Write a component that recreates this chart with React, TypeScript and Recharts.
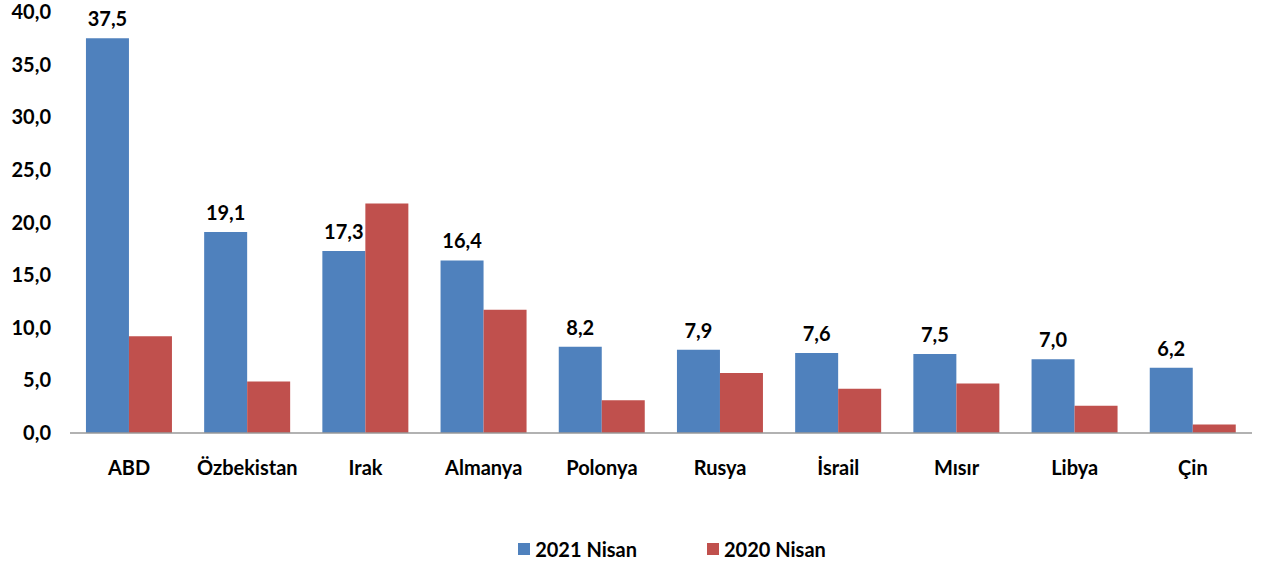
import React from "react";
import { BarChart, Bar, XAxis, YAxis, LabelList, Legend } from "recharts";

const categories = ["ABD", "Özbekistan", "Irak", "Almanya", "Polonya", "Rusya", "İsrail", "Mısır", "Libya", "Çin"];
const values2021 = [37.5, 19.1, 17.3, 16.4, 8.2, 7.9, 7.6, 7.5, 7.0, 6.2];
const values2020 = [9.2, 4.9, 21.8, 11.7, 3.1, 5.7, 4.2, 4.7, 2.6, 0.8];
const yTicks = [0, 5, 10, 15, 20, 25, 30, 35, 40];

const data = categories.map((c, i) => ({ name: c, y2021: values2021[i], y2020: values2020[i] }));

const fmt = (v: number) => v.toFixed(1).replace(".", ",");
const FONT = "Lato, 'Open Sans', sans-serif";
const BLUE = "#4F81BD";
const RED = "#C0504D";

const LegendContent = () => (
  <div style={{ display: "flex", justifyContent: "center", fontFamily: FONT, fontWeight: 700, fontSize: 20, color: "#000", paddingLeft: 92, lineHeight: "24px" }}>
    <div style={{ display: "flex", alignItems: "center", marginRight: 70 }}>
      <span style={{ width: 12, height: 12, background: BLUE, display: "inline-block", marginRight: 5 }} />
      2021 Nisan
    </div>
    <div style={{ display: "flex", alignItems: "center" }}>
      <span style={{ width: 12, height: 12, background: RED, display: "inline-block", marginRight: 5 }} />
      2020 Nisan
    </div>
  </div>
);

export default function App() {
  return (
    <div style={{ position: "absolute", left: 0, top: 0, background: "#fff" }}>
      <BarChart
        width={1264}
        height={566}
        data={data}
        margin={{ top: 12, right: 12, left: 0, bottom: 8 }}
        barCategoryGap="13.5%"
        barGap={0}
      >
        <XAxis
          dataKey="name"
          axisLine={{ stroke: "#999", strokeWidth: 1.5 }}
          tickLine={false}
          tickMargin={22}
          height={69}
          interval={0}
          tick={{ fontFamily: FONT, fontWeight: 700, fontSize: 20, fill: "#000" }}
        />
        <YAxis
          domain={[0, 40]}
          ticks={yTicks}
          axisLine={false}
          tickLine={false}
          width={70}
          tickMargin={13}
          tickFormatter={fmt}
          tick={{ fontFamily: FONT, fontWeight: 700, fontSize: 20, fill: "#000" }}
        />
        <Legend verticalAlign="bottom" height={56} wrapperStyle={{ top: 537, bottom: "auto" }} content={<LegendContent />} />
        <Bar dataKey="y2021" name="2021 Nisan" fill={BLUE} isAnimationActive={false}>
          <LabelList dataKey="y2021" position="top" offset={12} formatter={(v: any) => fmt(Number(v))}
            style={{ fontFamily: FONT, fontWeight: 700, fontSize: 20, fill: "#000" }} />
        </Bar>
        <Bar dataKey="y2020" name="2020 Nisan" fill={RED} isAnimationActive={false} />
      </BarChart>
    </div>
  );
}
